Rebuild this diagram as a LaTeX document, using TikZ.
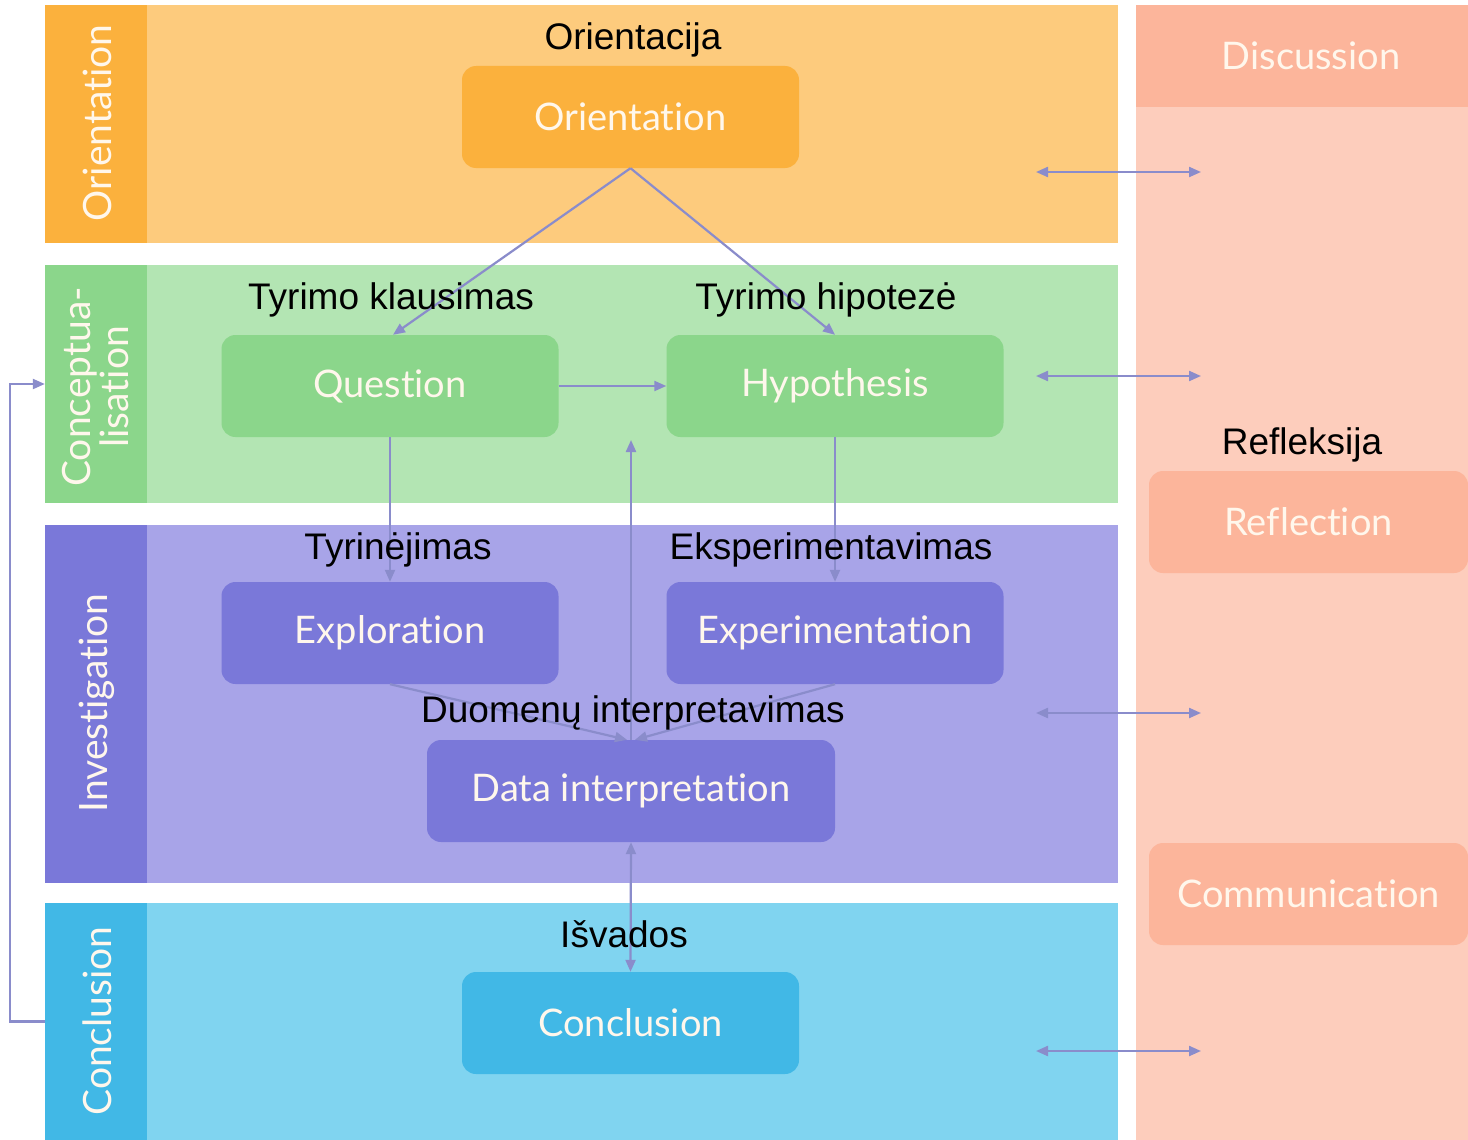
\documentclass[tikz,border=0pt]{standalone}
\usepackage{fontspec}
\setmainfont{Liberation Sans}
\newfontfamily\boxfont[Ligatures={NoCommon}]{Lato}
\usetikzlibrary{arrows.meta}
\definecolor{oriDark}{HTML}{FBB13D}
\definecolor{oriLight}{HTML}{FDCB7D}
\definecolor{grnDark}{HTML}{8BD68B}
\definecolor{grnLight}{HTML}{B3E5B3}
\definecolor{purDark}{HTML}{7A78D9}
\definecolor{purLight}{HTML}{A8A4E8}
\definecolor{bluDark}{HTML}{41B8E6}
\definecolor{bluLight}{HTML}{80D4F0}
\definecolor{pchLight}{HTML}{FDCDBC}
\definecolor{pchDark}{HTML}{FCB59B}
\definecolor{arrowc}{HTML}{8A8CCB}
\definecolor{offwhite}{HTML}{FFF7EC}
\begin{document}
\begin{tikzpicture}[x=1pt,y=-1pt,
  panel/.style={rectangle, inner sep=0pt, draw=none},
  stage/.style={rectangle, rounded corners=14pt, inner sep=0pt, minimum width=337pt, minimum height=102pt,
     text=offwhite, font=\boxfont\fontsize{38}{42}\selectfont},
  tabtext/.style={rotate=90, text=offwhite, font=\boxfont\fontsize{39}{40}\selectfont, align=center, inner sep=0pt},
  lbl/.style={text=black, font=\fontsize{37}{40}\selectfont, inner sep=0pt, anchor=base},
  arr/.style={draw=arrowc, line width=2.2pt, -{Triangle[length=12pt,width=10pt]}},
  darr/.style={draw=arrowc, line width=2.2pt, {Triangle[length=12pt,width=10pt]}-{Triangle[length=12pt,width=10pt]}}
]
\useasboundingbox (0,0) rectangle (1468,1140);
\fill[white] (0,0) rectangle (1468,1140);

% bands
\node[panel, fill=oriLight, minimum width=971pt, minimum height=238pt] (bandO) at (632.5,124) {};
\node[panel, fill=oriDark, minimum width=102pt, minimum height=238pt] (tabO) at (96,124) {};
\node[panel, fill=grnLight, minimum width=971pt, minimum height=238pt] (bandC) at (632.5,384) {};
\node[panel, fill=grnDark, minimum width=102pt, minimum height=238pt] (tabC) at (96,384) {};
\node[panel, fill=purLight, minimum width=971pt, minimum height=358pt] (bandI) at (632.5,704) {};
\node[panel, fill=purDark, minimum width=102pt, minimum height=358pt] (tabI) at (96,704) {};
\node[panel, fill=bluLight, minimum width=971pt, minimum height=237pt] (bandK) at (632.5,1021.5) {};
\node[panel, fill=bluDark, minimum width=102pt, minimum height=237pt] (tabK) at (96,1021.5) {};

% right column
\node[panel, fill=pchLight, minimum width=332pt, minimum height=1135pt] (colR) at (1302,572.5) {};
\node[panel, fill=pchDark, minimum width=332pt, minimum height=102pt] (disc) at (1302,56) {};
\node[text=offwhite, font=\boxfont\fontsize{38}{42}\selectfont, inner sep=0pt] (discT) at (1311,56) {Discussion};
\node[stage, fill=pchDark, minimum width=319pt] (refl) at (1308.5,522) {Reflection};
\node[stage, fill=pchDark, minimum width=319pt] (comm) at (1308.5,894) {Communication};

% tab texts
\node[tabtext] (tO) at (97,123) {Orientation};
\node[tabtext, font=\boxfont\fontsize{39}{38}\selectfont] (tC) at (96,387) {Conceptua-\\lisation};
\node[tabtext] (tI) at (97,703) {Investigation};
\node[tabtext] (tK) at (97,1021) {Conclusion};

% stage boxes
\node[stage, fill=oriDark] (ori) at (630.5,117) {Orientation};
\node[stage, fill=grnDark] (q) at (390,386) {Question};
\node[stage, fill=grnDark] (h) at (835,386) {Hypothesis};
\node[stage, fill=purDark] (ex) at (390,633) {Exploration};
\node[stage, fill=purDark] (exp) at (835,633) {Experimentation};
\node[stage, fill=purDark, minimum width=408pt] (di) at (631,791) {Data interpretation};
\node[stage, fill=bluDark] (con) at (630.5,1023) {Conclusion};

% connectors
\draw[arr] (ori.south) -- ([xshift=3pt]q.north);
\draw[arr] (ori.south) -- (h.north);
\draw[arr] (q.east) -- (h.west);
\draw[arr] (q.south) -- (ex.north);
\draw[arr] (h.south) -- (exp.north);
\draw[arr] (ex.south) -- ([xshift=-4pt]di.north);
\draw[arr] (exp.south) -- ([xshift=4pt]di.north);
\coordinate (upEnd) at (631,440);
\draw[arr] (di.north) -- (upEnd);
\draw[darr] (di.south) -- (con.north);
\draw[arr] (tabK.west) -- ++(-35,0) |- (tabC.west);

\coordinate (dL1) at (1036,172); \coordinate (dR1) at (1201,172);
\coordinate (dL2) at (1036,376); \coordinate (dR2) at (1201,376);
\coordinate (dL3) at (1036,713); \coordinate (dR3) at (1201,713);
\coordinate (dL4) at (1036,1051); \coordinate (dR4) at (1201,1051);
\draw[darr] (dL1) -- (dR1);
\draw[darr] (dL2) -- (dR2);
\draw[darr] (dL3) -- (dR3);
\draw[darr] (dL4) -- (dR4);

% Lithuanian labels (baselines)
\node[lbl] (lO) at (633,50) {Orientacija};
\node[lbl] (lQ) at (391,309) {Tyrimo klausimas};
\node[lbl] (lH) at (826,309) {Tyrimo hipotezė};
\node[lbl] (lEx) at (398,559) {Tyrinėjimas};
\node[lbl] (lExp) at (831,559) {Eksperimentavimas};
\node[lbl] (lDI) at (633,722) {Duomenų interpretavimas};
\node[lbl] (lK) at (624,947) {Išvados};
\node[lbl] (lR) at (1302,454) {Refleksija};
\end{tikzpicture}
\end{document}
